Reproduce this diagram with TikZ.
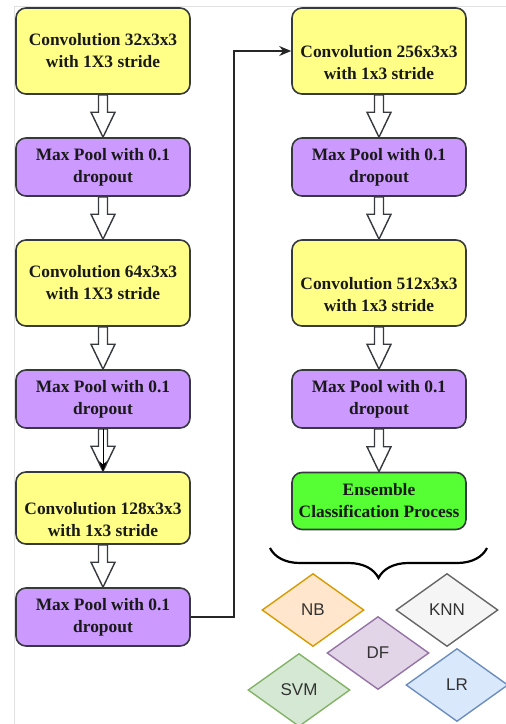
\documentclass[tikz,border=0pt]{standalone}
\usepackage{fontspec}
\setmainfont{Liberation Serif}
\newfontfamily\clffont{Liberation Sans}
\usepackage{xcolor}
\usetikzlibrary{arrows.meta,calc,shapes.geometric,decorations.pathreplacing}

\definecolor{boxline}{HTML}{36393D}
\definecolor{convyellow}{HTML}{FFFF88}
\definecolor{poolpurple}{HTML}{CC99FF}
\definecolor{ensgreen}{HTML}{55FF33}
\definecolor{nbfill}{HTML}{FFE6CC}\definecolor{nbline}{HTML}{D79B00}
\definecolor{knnfill}{HTML}{F5F5F5}\definecolor{knnline}{HTML}{666666}
\definecolor{dffill}{HTML}{E1D5E7}\definecolor{dfline}{HTML}{9673A6}
\definecolor{svmfill}{HTML}{D5E8D4}\definecolor{svmline}{HTML}{82B366}
\definecolor{lrfill}{HTML}{DAE8FC}\definecolor{lrline}{HTML}{6C8EBF}

\begin{document}
\begin{tikzpicture}[x=0.5pt, y=-0.5pt,
    box/.style={draw=boxline, line width=0.8pt, rounded corners=5pt, align=center, inner sep=0pt, minimum width=87pt, font=\fontsize{8.7}{11}\selectfont\bfseries, text=black!90},
    conv/.style={box, fill=convyellow, minimum height=43pt},
    pool/.style={box, fill=poolpurple, minimum height=29pt},
    lowtext/.style={text height=29pt},
    hollow/.style={draw=boxline, fill=white, line width=0.7pt, to path={
        ($(\tikztostart)+(-4.5,0)$) -- ($(\tikztotarget)+(-4.5,-25)$) -- ($(\tikztotarget)+(-12,-25)$)
        -- (\tikztotarget) -- ($(\tikztotarget)+(12,-25)$) -- ($(\tikztotarget)+(4.5,-25)$)
        -- ($(\tikztostart)+(4.5,0)$) -- cycle}},
    link/.style={-{Stealth[length=6pt,width=5pt]}, line width=0.7pt, black!85},
    clf/.style={diamond, line width=0.7pt, inner sep=0pt, minimum width=51pt, minimum height=36.5pt, font=\clffont\fontsize{8.5}{10}\selectfont, text=black!80},
]
\path[use as bounding box] (0,0) rectangle (506,724);
\clip (0,0) rectangle (506,724);

% page frame
\draw[black!12, line width=0.5pt] (506,6) -- (14,6) -- (14,724);

% Left column
\node[conv] (c32) at (103,51) {Convolution 32x3x3 \\ with 1X3 stride};
\node[pool] (p1) at (103,167) {Max Pool with 0.1 \\ dropout};
\node[conv] (c64) at (103,283) {Convolution 64x3x3 \\ with 1X3 stride};
\node[pool] (p2) at (103,399) {Max Pool with 0.1 \\ dropout};
\node[conv, lowtext, minimum height=36pt] (c128) at (103,508) {Convolution 128x3x3 \\ with 1x3 stride};
\node[pool] (p3) at (103,617) {Max Pool with 0.1 \\ dropout};

% Right column
\node[conv, lowtext] (c256) at (379,51) {Convolution 256x3x3 \\ with 1x3 stride};
\node[pool] (p4) at (379,167) {Max Pool with 0.1 \\ dropout};
\node[conv, lowtext] (c512) at (379,283) {Convolution 512x3x3 \\ with 1x3 stride};
\node[pool] (p5) at (379,399) {Max Pool with 0.1 \\ dropout};
\node[box, fill=ensgreen, minimum height=28.5pt] (ens) at (379,501) {Ensemble \\ Classification Process};

% Block arrows between layers
\foreach \a/\b in {c32/p1, p1/c64, c64/p2, p2/c128, c128/p3, c256/p4, p4/c512, c512/p5, p5/ens}
  \draw[hollow] (\a.south) to (\b.north);
\draw[-{Stealth[length=5pt,width=4pt]}, line width=0.5pt] (p2.south) -- (c128.north);

% Jump to second column
\draw[link] (p3.east) -- ++(43,0) |- (c256.west);

% Brace over the classifiers
\draw[line width=1.1pt, decorate, decoration={brace, amplitude=15pt}] (487,548) -- (270,548);

% Classifiers
\node[clf, draw=nbline, fill=nbfill] (nb) at (313,610) {NB};
\node[clf, draw=knnline, fill=knnfill] (knn) at (447,610) {KNN};
\node[clf, draw=dfline, fill=dffill] (df) at (378,653) {DF};
\node[clf, draw=svmline, fill=svmfill] (svm) at (299,690) {SVM};
\node[clf, draw=lrline, fill=lrfill] (lr) at (457,685) {LR};

\end{tikzpicture}
\end{document}
